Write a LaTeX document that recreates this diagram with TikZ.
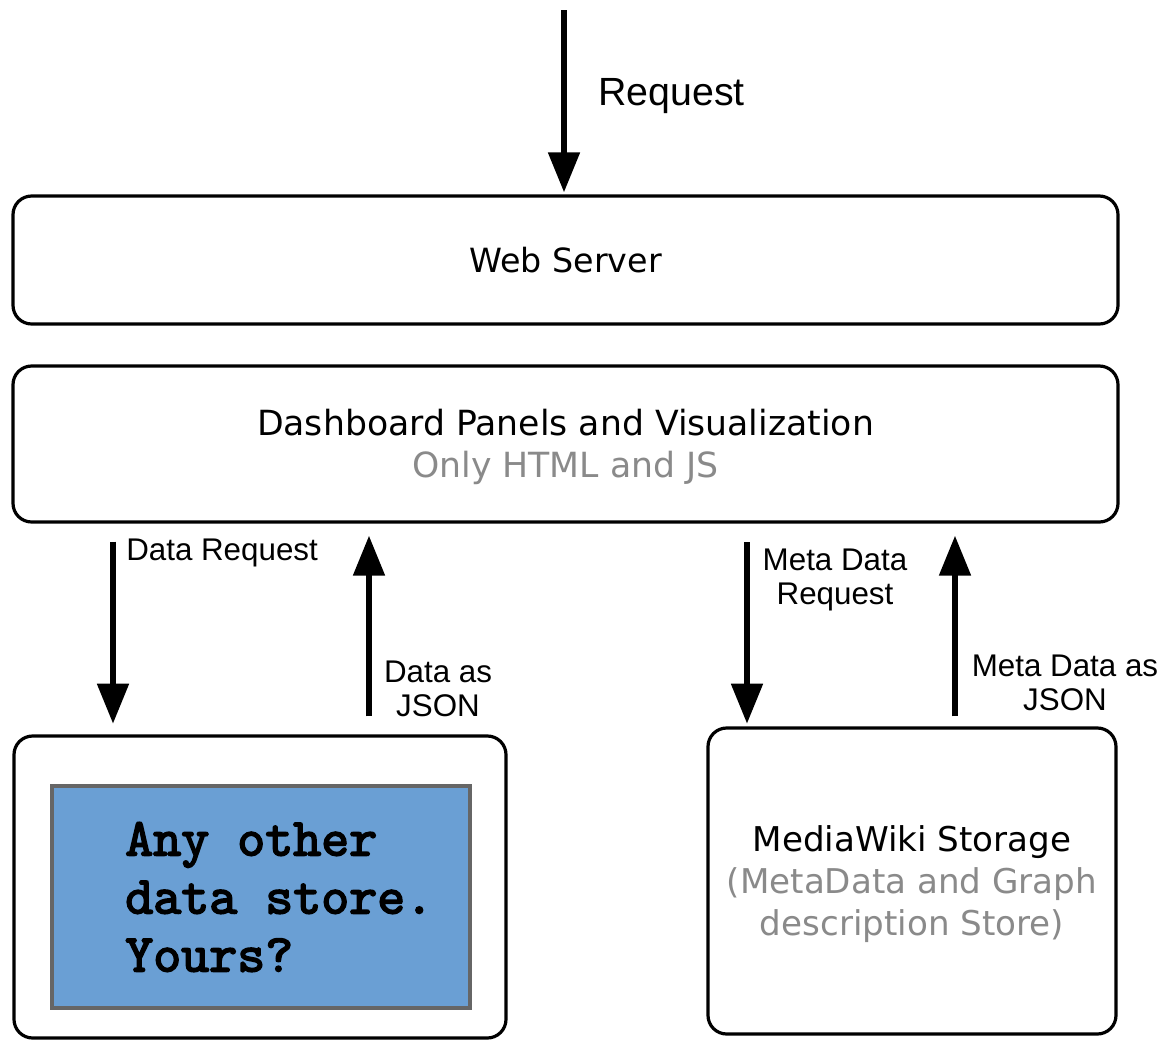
\documentclass[tikz,border=0pt]{standalone}
\usepackage{fontspec}
\setmainfont{DejaVu Sans}
\newfontfamily\lblfont{Liberation Sans}
\newfontfamily\slabfont[FakeBold=3]{lmmono10-regular.otf}
\usetikzlibrary{arrows.meta}
\definecolor{storeblue}{HTML}{6A9FD4}
\definecolor{subgray}{HTML}{8A8A8A}
\begin{document}
\begin{tikzpicture}[x=0.75pt,y=-0.75pt,
  box/.style={draw=black, line width=2.4pt, rounded corners=14pt, fill=white, inner sep=0pt, align=center},
  boxtext/.style={font=\fontsize{25.6}{31.5}\selectfont, align=center, inner sep=0pt},
  flow/.style={line width=4.5pt, -{Triangle[length=30pt,width=23pt]}},
  lbl/.style={font=\lblfont\fontsize{23.5}{26}\selectfont, inner sep=0pt, align=center},
  sub/.style={text=subgray}]
\useasboundingbox (0,0) rectangle (1165,1040);
\fill[white] (0,0) rectangle (1165,1040);

\node[box, minimum width=828.75pt, minimum height=96pt, font=\fontsize{25}{31}\selectfont] (web) at (565.5,260) {Web Server};
\node[box, minimum width=828.75pt, minimum height=117pt] (dash) at (565.5,444) {};
\node[boxtext, font=\fontsize{26}{32}\selectfont] (dashtxt) at (565.5,447)
  {Dashboard Panels and Visualization\\ \textcolor{subgray}{Only HTML and JS}};
\node[box, minimum width=369pt, minimum height=226.5pt] (store) at (260,887) {};
\node[draw=black!60, line width=2.4pt, fill=storeblue, minimum width=313.5pt, minimum height=166.5pt, inner sep=0pt] (blue) at (261,897) {};
\node[anchor=west, align=left, inner sep=0pt, font=\slabfont\fontsize{40}{43.5}\selectfont] (bluetxt) at (125,897)
  {Any other\\data store.\\Yours?};
\node[box, minimum width=306pt, minimum height=229.5pt] (mw) at (912,881) {};
\node[boxtext] (mwtxt) at (912,884)
  {MediaWiki Storage\\ \textcolor{subgray}{(MetaData and Graph}\\ \textcolor{subgray}{description Store)}};

\coordinate (src) at (564,10);
\draw[flow, shorten >=1.5pt] (src) -- (src |- web.north);
\node[lbl, anchor=west, font=\lblfont\fontsize{29.5}{32}\selectfont] (reqlbl) at (598,96) {Request};

\draw[flow, shorten <=13.5pt, shorten >=8pt] (113,0 |- dash.south) -- (113,0 |- store.north);
\node[lbl, anchor=west] (drlbl) at (126,553) {Data Request};

\draw[flow, shorten <=13.5pt, shorten >=9pt] (369,0 |- store.north) -- (369,0 |- dash.south);
\node[lbl] (djlbl) at (438,689) {Data as\\JSON};

\draw[flow, shorten <=14pt, shorten >=2pt] (747,0 |- dash.south) -- (747,0 |- mw.north);
\node[lbl] (mrlbl) at (835,580) {Meta Data\\Request};

\draw[flow, shorten <=7.5pt, shorten >=9pt] (955,0 |- mw.north) -- (955,0 |- dash.south);
\node[lbl] (mjlbl) at (1065,683) {Meta Data as\\JSON};
\end{tikzpicture}
\end{document}
